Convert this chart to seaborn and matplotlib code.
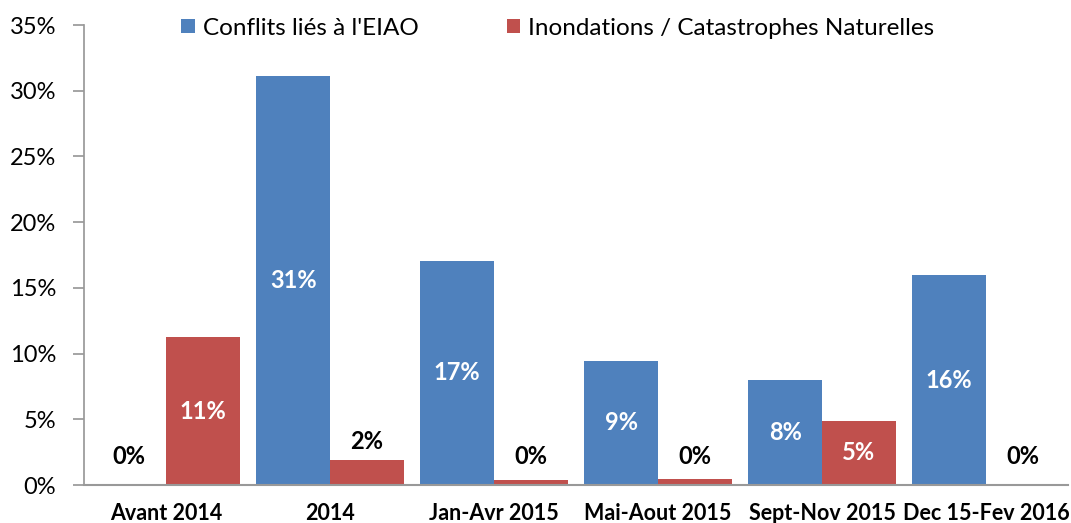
import matplotlib
matplotlib.use("Agg")
import matplotlib.pyplot as plt
import seaborn as sns
import pandas as pd
from matplotlib.ticker import PercentFormatter

categories = ["Avant 2014", "2014", "Jan-Avr 2015", "Mai-Aout 2015", "Sept-Nov 2015", "Dec 15-Fev 2016"]
series_names = ["Conflits liés à l'EIAO", "Inondations / Catastrophes Naturelles"]
conflits = [0.0, 31.1, 17.05, 9.45, 8.0, 15.95]
inondations = [11.25, 1.9, 0.35, 0.45, 4.9, 0.0]
conflits_labels = ["0%", "31%", "17%", "9%", "8%", "16%"]
inondations_labels = ["11%", "2%", "0%", "0%", "5%", "0%"]
colors = ["#4F81BD", "#C0504D"]

sns.set_theme(style="white")
plt.rcParams['font.family'] = ['Lato', 'DejaVu Sans']

df = pd.DataFrame({
    "cat": categories * 2,
    "val": conflits + inondations,
    "serie": [series_names[0]] * 6 + [series_names[1]] * 6,
})

W, H = 1071, 523
fig = plt.figure(figsize=(W / 100, H / 100), dpi=100)
ax = fig.add_axes([84 / W, 1 - 485 / H, (1068 - 84) / W, (485 - 25) / H])
sns.barplot(data=df, x="cat", y="val", hue="serie", palette=colors, width=0.9,
            gap=0, ax=ax, saturation=1, edgecolor="none", errorbar=None)

ax.set_ylim(0, 35)
ax.set_xlim(-0.5, 5.5)
ax.set_yticks(range(0, 36, 5))
ax.yaxis.set_major_formatter(PercentFormatter(decimals=0))
ax.set_xlabel("")
ax.set_ylabel("")
ax.tick_params(axis="y", left=True, length=8, color="#999999", labelsize=17, pad=12,
               labelcolor="black")
ax.tick_params(axis="x", bottom=False, labelsize=15.5, pad=7, labelcolor="black")
for lab in ax.get_xticklabels():
    lab.set_fontweight("bold")
for s in ["top", "right"]:
    ax.spines[s].set_visible(False)
ax.spines["left"].set_color("#999999")
ax.spines["bottom"].set_color("#999999")
ax.spines["bottom"].set_linewidth(1.5)

for cont, vals, labs in zip(ax.containers, [conflits, inondations], [conflits_labels, inondations_labels]):
    for bar, v, t in zip(cont, vals, labs):
        xc = bar.get_x() + bar.get_width() / 2
        if v >= 4:
            ax.text(xc, v / 2, t, ha="center", va="center", color="white",
                    fontsize=17, fontweight="bold")
        else:
            ax.text(xc, max(v + 1.4, 2.2), t, ha="center", va="center", color="black",
                    fontsize=17, fontweight="bold")

leg = ax.legend(loc="center", bbox_to_anchor=((558 - 84) / (1068 - 84), 0.993), ncol=2,
                frameon=False, fontsize=17.5, handlelength=0.55, handleheight=0.55,
                handletextpad=0.35, columnspacing=3.6)
for t in leg.get_texts():
    t.set_color("black")

fig.savefig("out.png", dpi=100)
